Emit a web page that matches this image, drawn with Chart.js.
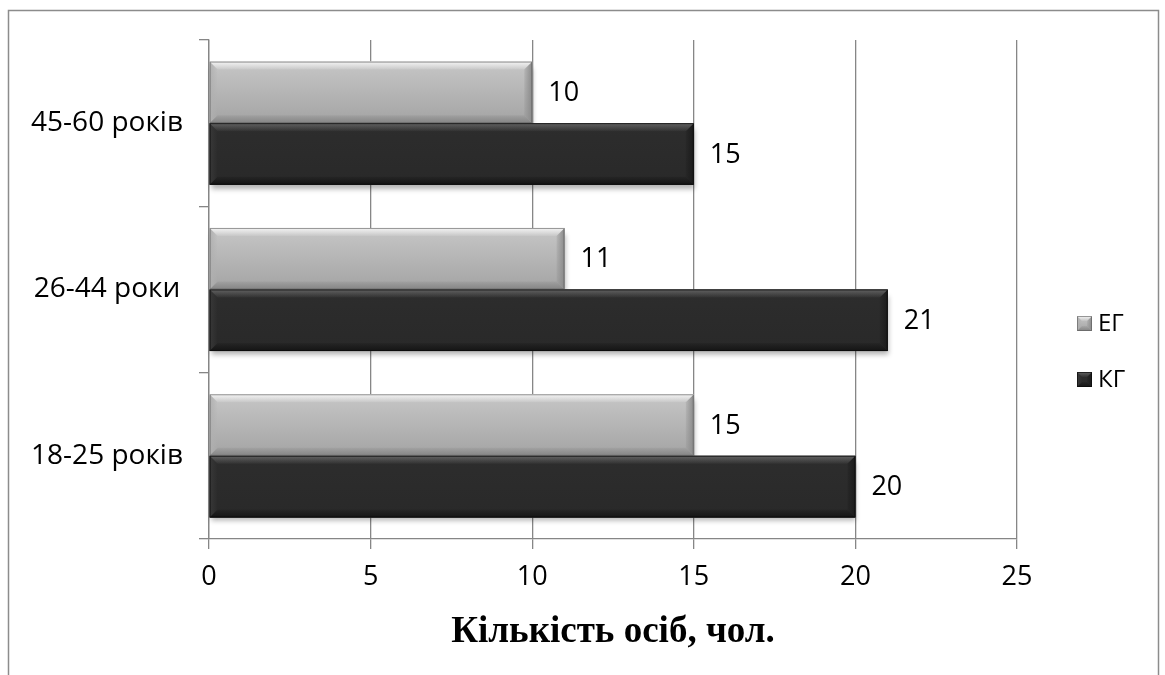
<!DOCTYPE html>
<html>
<head>
<meta charset="utf-8">
<script src="https://cdn.jsdelivr.net/npm/chart.js@4/dist/chart.umd.min.js"></script>
<style>
  html, body { margin: 0; padding: 0; background: #fff; }
  #wrap { width: 1165px; height: 675px; position: relative; }
</style>
</head>
<body>
<div id="wrap"><canvas id="c" width="1165" height="675"></canvas></div>
<script>
// Age groups (top to bottom) and participant counts per group
const categories = ['45-60 років', '26-44 роки', '18-25 років'];
const egValues = [10, 11, 15];
const kgValues = [15, 21, 20];
const seriesNames = ['ЕГ', 'КГ'];
const xTicks = [0, 5, 10, 15, 20, 25];
const axisTitle = 'Кількість осіб, чол.';

const LABEL_FONT = '"Open Sans", sans-serif';
const gridGrey = '#868686';

// Colour scheme for each series: body gradient and bevel tones
const looks = [
  { top: '#c6c6c6', bottom: '#a4a4a4', hi: '#f4f4f4', left: '#b0b0b0', lo: '#858585', side: '#8a8a8a', edge: 'rgba(90,90,90,0.6)' },
  { top: '#2d2d2d', bottom: '#292929', hi: '#626262', left: '#383838', lo: '#141414', side: '#1a1a1a', edge: 'rgba(10,10,10,0.7)' }
];

function rgbaOf(hex, a) {
  const n = parseInt(hex.slice(1), 16);
  return 'rgba(' + (n >> 16) + ',' + ((n >> 8) & 255) + ',' + (n & 255) + ',' + a + ')';
}

function bevelRect(ctx, x0, y0, x1, y1, look, b) {
  const g = ctx.createLinearGradient(0, y0, 0, y1);
  g.addColorStop(0, look.top);
  g.addColorStop(1, look.bottom);
  ctx.fillStyle = g;
  ctx.fillRect(x0, y0, x1 - x0, y1 - y0);

  // left bevel
  let gl = ctx.createLinearGradient(x0, 0, x0 + b, 0);
  gl.addColorStop(0, look.left); gl.addColorStop(1, rgbaOf(look.left, 0));
  ctx.fillStyle = gl;
  ctx.beginPath();
  ctx.moveTo(x0, y0); ctx.lineTo(x0 + b, y0 + b); ctx.lineTo(x0 + b, y1 - b); ctx.lineTo(x0, y1); ctx.closePath(); ctx.fill();
  // right bevel
  let gr = ctx.createLinearGradient(x1 - b, 0, x1, 0);
  gr.addColorStop(0, rgbaOf(look.side, 0.2)); gr.addColorStop(1, look.side);
  ctx.fillStyle = gr;
  ctx.beginPath();
  ctx.moveTo(x1, y0); ctx.lineTo(x1, y1); ctx.lineTo(x1 - b, y1 - b); ctx.lineTo(x1 - b, y0 + b); ctx.closePath(); ctx.fill();
  // top bevel
  let gt = ctx.createLinearGradient(0, y0, 0, y0 + b);
  gt.addColorStop(0, look.hi); gt.addColorStop(1, rgbaOf(look.hi, 0.1));
  ctx.fillStyle = gt;
  ctx.beginPath();
  ctx.moveTo(x0, y0); ctx.lineTo(x1, y0); ctx.lineTo(x1 - b, y0 + b); ctx.lineTo(x0 + b, y0 + b); ctx.closePath(); ctx.fill();
  // bottom bevel
  let gb = ctx.createLinearGradient(0, y1 - b, 0, y1);
  gb.addColorStop(0, rgbaOf(look.lo, 0.2)); gb.addColorStop(1, look.lo);
  ctx.fillStyle = gb;
  ctx.beginPath();
  ctx.moveTo(x0, y1); ctx.lineTo(x0 + b, y1 - b); ctx.lineTo(x1 - b, y1 - b); ctx.lineTo(x1, y1); ctx.closePath(); ctx.fill();

  ctx.strokeStyle = look.edge;
  ctx.lineWidth = 1;
  ctx.strokeRect(x0 + 0.5, y0 + 0.5, x1 - x0 - 1, y1 - y0 - 1);
}

const beveledBars = {
  id: 'beveledBars',
  beforeDatasetsDraw(chart) {
    const ctx = chart.ctx;
    ctx.save();
    chart.data.datasets.forEach((ds, i) => {
      chart.getDatasetMeta(i).data.forEach(bar => {
        const x0 = Math.min(bar.base, bar.x), x1 = Math.max(bar.base, bar.x);
        const y0 = bar.y - bar.height / 2;
        ctx.shadowColor = 'rgba(0,0,0,0.3)';
        ctx.shadowBlur = 5;
        ctx.shadowOffsetY = 4;
        ctx.shadowOffsetX = 1;
        ctx.fillStyle = '#888';
        ctx.fillRect(x0, y0 + 2, x1 - x0, bar.height - 2);
      });
    });
    ctx.restore();
  },
  afterDatasetsDraw(chart) {
    const ctx = chart.ctx;
    ctx.save();
    chart.data.datasets.forEach((ds, i) => {
      chart.getDatasetMeta(i).data.forEach((bar, j) => {
        const x0 = Math.min(bar.base, bar.x), x1 = Math.max(bar.base, bar.x);
        const y0 = bar.y - bar.height / 2, y1 = bar.y + bar.height / 2;
        bevelRect(ctx, x0, y0, x1, y1, looks[i], 8);
        // value label
        ctx.fillStyle = '#000';
        ctx.font = '27px ' + LABEL_FONT;
        ctx.textAlign = 'left';
        ctx.textBaseline = 'middle';
        ctx.fillText(String(ds.data[j]), x1 + 16, bar.y + 1);
      });
    });
    ctx.restore();
  }
};

// Frame around the whole chart and the legend at the right
const frameAndLegend = {
  id: 'frameAndLegend',
  beforeDraw(chart) {
    const ctx = chart.ctx;
    ctx.save();
    ctx.fillStyle = '#fff';
    ctx.fillRect(0, 0, chart.width, chart.height);
    ctx.strokeStyle = '#8c8c8c';
    ctx.lineWidth = 1.5;
    ctx.strokeRect(8.5, 10.5, 1150, 700);
    ctx.restore();
  },
  afterDraw(chart) {
    const ctx = chart.ctx;
    ctx.save();
    const rows = [323, 379];
    chart.data.datasets.forEach((ds, i) => {
      const y = rows[i];
      bevelRect(ctx, 1077, y - 7, 1092, y + 8, looks[i], 5);
      ctx.fillStyle = '#000';
      ctx.font = '24px ' + LABEL_FONT;
      ctx.textAlign = 'left';
      ctx.textBaseline = 'middle';
      ctx.fillText(ds.label, 1098, y + 1);
    });
    ctx.restore();
  }
};

new Chart(document.getElementById('c'), {
  type: 'bar',
  data: {
    labels: categories,
    datasets: [
      { label: seriesNames[0], data: egValues, backgroundColor: '#b6b6b6' },
      { label: seriesNames[1], data: kgValues, backgroundColor: '#2b2b2b' }
    ]
  },
  options: {
    indexAxis: 'y',
    responsive: false,
    animation: false,
    devicePixelRatio: 1,
    layout: { padding: { left: 0, right: 148, top: 40, bottom: 0 } },
    datasets: { bar: { barPercentage: 1, categoryPercentage: 0.74 } },
    plugins: { legend: { display: false }, tooltip: { enabled: false } },
    scales: {
      x: {
        min: 0, max: 25,
        afterBuildTicks(scale) { scale.ticks = xTicks.map(v => ({ value: v })); },
        afterFit(scale) { scale.height = 675 - 539; },
        grid: { color: gridGrey, lineWidth: 1.3, tickLength: 10, drawTicks: true },
        border: { color: gridGrey, width: 1.3 },
        ticks: { color: '#000', font: { family: LABEL_FONT, size: 27 }, padding: 12 },
        title: {
          display: true, text: axisTitle, color: '#000',
          font: { family: '"Liberation Serif", "Times New Roman", serif', size: 37, weight: 'bold' },
          padding: { top: 0, bottom: 20 }
        }
      },
      y: {
        afterFit(scale) { scale.width = 209; },
        grid: { color: gridGrey, lineWidth: 1.3, tickLength: 10, drawOnChartArea: false, offset: true },
        border: { color: gridGrey, width: 1.3 },
        ticks: { color: '#000', font: { family: LABEL_FONT, size: 28 }, crossAlign: 'center', padding: 16 }
      }
    }
  },
  plugins: [frameAndLegend, beveledBars]
});
</script>
</body>
</html>
